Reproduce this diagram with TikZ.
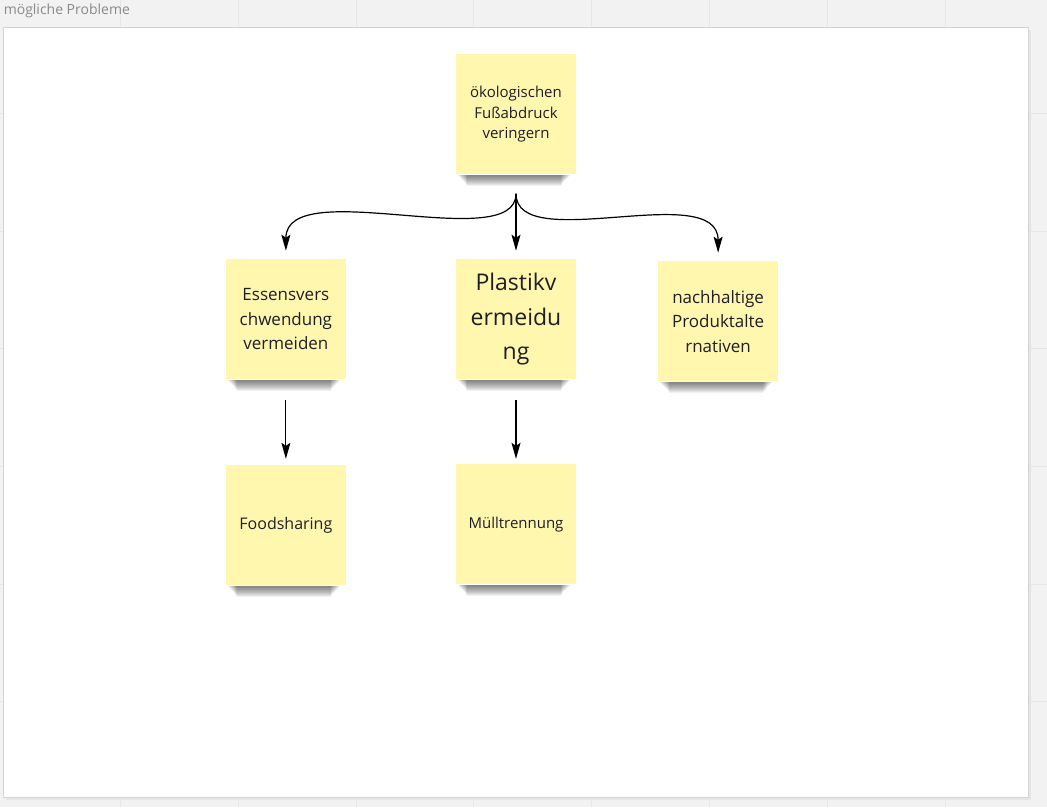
\documentclass[tikz,border=0pt]{standalone}
\usepackage{fontspec}
\setmainfont{Open Sans}
\usepackage{tikz}
\usetikzlibrary{arrows.meta,positioning}
\definecolor{notefill}{HTML}{FFF7AE}
\definecolor{notetext}{HTML}{1E1E28}
\definecolor{boardgray}{HTML}{F2F2F2}
\definecolor{gridgray}{HTML}{E6E6E6}
\definecolor{framegray}{HTML}{D4D4D4}
\definecolor{titlegray}{HTML}{8A8A8A}

\begin{document}
\begin{tikzpicture}
[x=1pt,y=-1pt,>={Stealth[length=16pt,width=9pt,inset=3pt]},line width=1.2pt,
 note/.style={fill=notefill,text=notetext,minimum width=120pt,minimum height=120pt,inner sep=0pt,align=center},
 small/.style={font=\fontsize{15}{20.5}\selectfont},
 medium/.style={font=\fontsize{17}{24.5}\selectfont},
 large/.style={font=\fontsize{23}{34.5}\selectfont}]
% board with grid
\fill[boardgray] (0,0) rectangle (1047,807);
\foreach \x in {120,238,356,473,591,709,827,945}
  \draw[gridgray,thin] (\x,0) -- (\x,807);
\foreach \y in {113,231,348,466,584,701}
  \draw[gridgray,thin] (0,\y) -- (1047,\y);
% frame
\fill[black!10] (6,30) rectangle (1031,800);
\filldraw[fill=white,draw=framegray,thin] (3,27) rectangle (1028,797);
\node[titlegray,anchor=west,inner sep=0pt,font=\fontsize{14}{16}\selectfont] (title) at (3,11) {mögliche Probleme};

% notes
\node[note,small] (top) at (516,114) {ökologischen\\Fußabdruck\\veringern};
\node[note,large] (plastik) [below=84pt of top] {Plastikv\\ermeidu\\ng};
\node[note,medium] (ess) [left=109pt of plastik] {Essensvers\\chwendung\\vermeiden};
\node[note,medium] (nach) [right=81pt of plastik,yshift=-2pt] {nachhaltige\\Produktalte\\rnativen};
\node[note,font=\fontsize{16}{20}\selectfont] (food) [below=85pt of ess] {Foodsharing};
\node[note,font=\fontsize{15}{20}\selectfont] (muell) [below=84pt of plastik] {Mülltrennung};

% soft shadows below the notes
\foreach \n in {top,ess,plastik,nach,food,muell}
  \foreach \d in {1,...,11}
    \fill[black,opacity=0.055] ([xshift=2pt+\d*0.9pt]\n.south west) rectangle ([xshift=-6pt-\d*0.9pt,yshift=-\d pt]\n.south east);

% connectors
\coordinate (split) at ([yshift=-19pt]top.south);
\draw[->,shorten >=8pt] (split) .. controls +(0,62) and +(0,-85) .. (ess.north);
\draw[->,shorten >=8pt] (split) .. controls +(0,62) and +(0,-82) .. (nach.north);
\path[->]
(split) edge [shorten >=8pt] (plastik)
(ess) edge [shorten <=20pt,shorten >=6pt] (food)
(plastik) edge [shorten <=20pt,shorten >=5pt] (muell)
;\end{tikzpicture}
\end{document}
